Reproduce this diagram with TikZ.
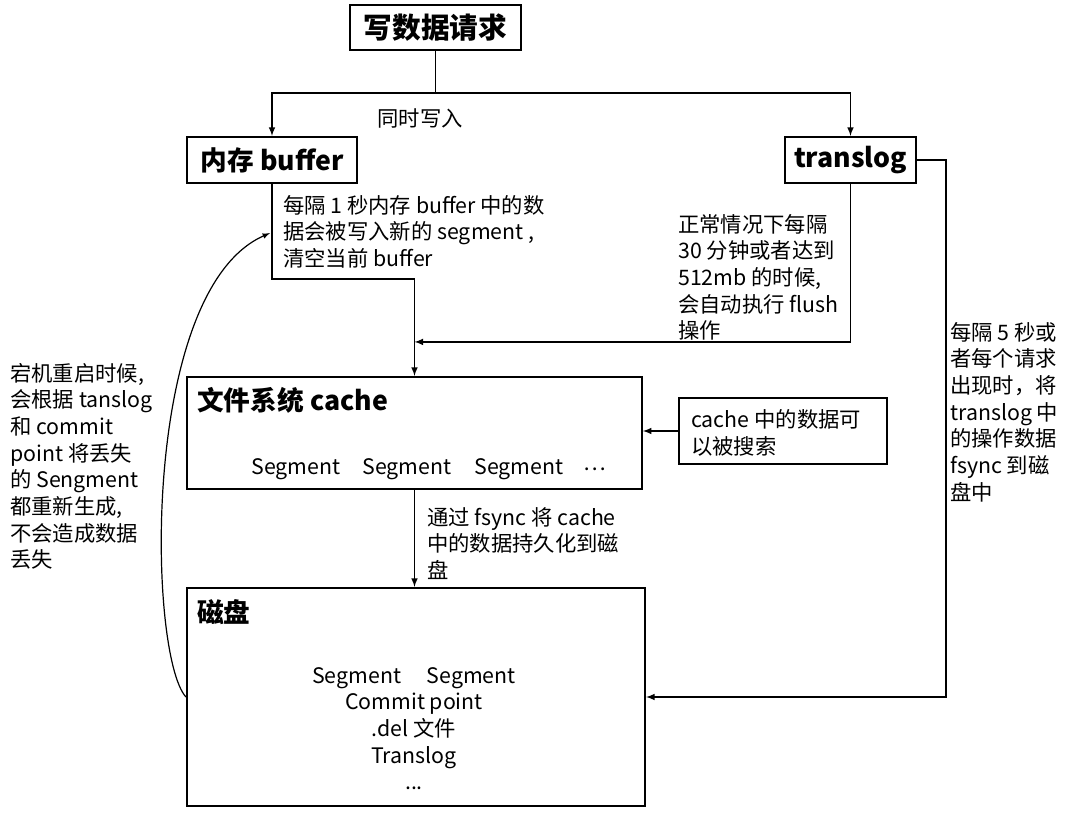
\documentclass[tikz,border=0pt]{standalone}
\usepackage{fontspec}
\setmainfont{Noto Sans CJK SC}
\usepackage{tikz}
\usetikzlibrary{calc}
\usetikzlibrary{arrows}
\usetikzlibrary{arrows.meta}
\usetikzlibrary{positioning}
\tikzset{>=latex}
\tikzstyle{blk} = [rectangle, draw=black, line width=1.6pt, inner sep=0pt]
\tikzstyle{hd} = [font=\bfseries\fontsize{20}{24}\selectfont, inner sep=0pt]
\tikzstyle{note} = [align=left, inner sep=0pt, font=\fontsize{16}{20}\selectfont]
\tikzstyle{flow} = [-latex, line width=1.2pt, draw=black]

\begin{document}
\begin{tikzpicture}[x=0.75pt, y=-0.75pt]
\useasboundingbox (0, 0) rectangle (1072, 816);

\node [blk, minimum width=128pt, minimum height=34pt, font=\bfseries\fontsize{21.5}{24}\selectfont] (req) at (435.5, 27.5) {写数据请求};
\node [blk, minimum width=127.5pt, minimum height=34.5pt] (buffer) at (272, 160) {};
\node [hd] (buffertitle) at (buffer.center) {内存 buffer};
\node [blk, minimum width=98pt, minimum height=34.5pt] (translog) at (850.5, 160) {};
\node [hd] (translogtitle) at (translog.center) {translog};
\node [blk, minimum width=341pt, minimum height=84pt] (cache) at (414.5, 433) {};
\node [hd, anchor=west] (cachetitle) at (197, 400) {文件系统 cache};
\node [blk, minimum width=343.5pt, minimum height=163.5pt] (disk) at (416, 697) {};
\node [hd, anchor=west] (disktitle) at (197, 612) {磁盘};
\node [blk, minimum width=156pt, minimum height=49.5pt] (search) at (783, 431) {};
\node [note, anchor=west] (searchtext) at (691, 433) {cache 中的数据可\\以被搜索};

\node [note] (seg1) at (296, 469) {Segment};
\node [note] (seg2) at (407, 469) {Segment};
\node [note] (seg3) at (519, 469) {Segment};
\node [note] (seg4) at (595, 469) {…};
\node [note, align=center, anchor=north] (diskfiles) at (414, 667) {Segment\hspace{1.2em}Segment\\Commit point\\.del 文件\\Translog\\...};

\coordinate (fork) at (435.5, 93);
\draw [line width=1.2pt] (req.south) -- (fork);
\draw [flow] (fork) -| (buffer.north);
\draw [flow] (fork) -| (translog.north);
\node [note] (sametime) at (420, 118) {同时写入};

\draw [flow] (buffer.south) |- ($(cache.north)+(0,-97)$) -- (cache.north);
\node [note, anchor=north west] (refresh) at (283, 195) {每隔 1 秒内存 buffer 中的数\\据会被写入新的 segment ,\\清空当前 buffer};

\draw [flow] (translog.south) |- ($(cache.north)+(0,-34)$);
\node [note, anchor=north west] (flush) at (678, 214) {正常情况下每隔\\30 分钟或者达到\\512mb 的时候,\\会自动执行 flush\\操作};

\draw [flow] (translog.east) -- ++(29, 0) |- (disk.east);
\node [note, anchor=north west] (fsynclog) at (950, 322) {每隔 5 秒或\\者每个请求\\出现时，将\\translog 中\\的操作数据\\fsync 到磁\\盘中};

\draw [flow] (search.west) -- (search.west -| cache.east);

\draw [flow] (cache.south) -- (cache.south |- disk.north);
\node [note, anchor=north west] (persist) at (427, 507) {通过 fsync 将 cache\\中的数据持久化到磁\\盘};

\draw [-latex, line width=0.9pt] (disk.west) .. controls (148, 655) and (140, 290) .. ($(buffer.south)+(-2, 49)$);
\node [note, anchor=north west] (recover) at (10, 363) {宕机重启时候,\\会根据 tanslog\\和 commit\\point 将丢失\\的 Sengment\\都重新生成,\\不会造成数据\\丢失};
\end{tikzpicture}
\end{document}
